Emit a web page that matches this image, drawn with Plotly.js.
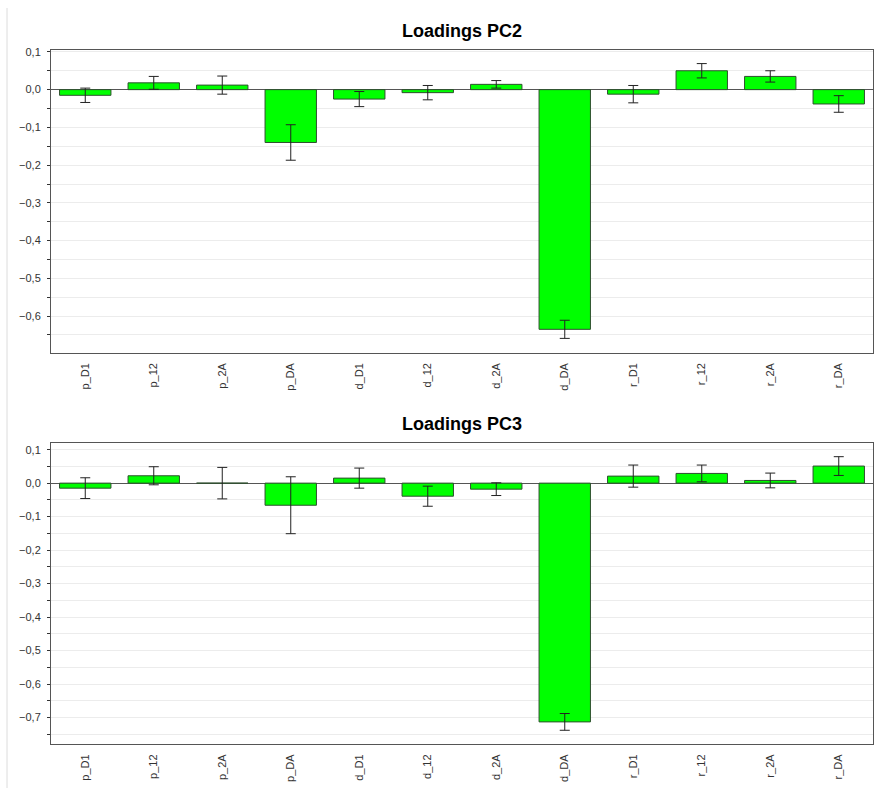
<!DOCTYPE html>
<html>
<head>
<meta charset="utf-8">
<script src="https://cdn.plot.ly/plotly-3.0.1.min.js"></script>
<style>html,body{margin:0;padding:0;background:#fff;}#chart{width:876px;height:788px;}</style>
</head>
<body>
<div id="chart"></div>
<script>
const categories = ["p_D1","p_12","p_2A","p_DA","d_D1","d_12","d_2A","d_DA","r_D1","r_12","r_2A","r_DA"];
const pc2Values = [-0.015, 0.018, 0.012, -0.140, -0.025, -0.008, 0.014, -0.635, -0.012, 0.050, 0.035, -0.038];
const pc2Errors = [0.019, 0.017, 0.024, 0.047, 0.020, 0.019, 0.010, 0.024, 0.023, 0.019, 0.015, 0.022];
const pc3Values = [-0.015, 0.022, 0.000, -0.066, 0.015, -0.039, -0.018, -0.713, 0.021, 0.029, 0.008, 0.051];
const pc3Errors = [0.031, 0.027, 0.047, 0.085, 0.030, 0.030, 0.019, 0.025, 0.033, 0.025, 0.022, 0.028];
const titles = ["Loadings PC2", "Loadings PC3"];

const font = "Liberation Sans, Arial, sans-serif";
const barStyle = {color: "#00ff00", line: {color: "#2f4f2f", width: 1}};
const errStyle = (arr) => ({type: "data", array: arr, visible: true, color: "#222", thickness: 1, width: 5});

const traces = [
  {type: "bar", x: categories, y: pc2Values, xaxis: "x", yaxis: "y", width: 0.75,
   marker: barStyle, error_y: errStyle(pc2Errors), hoverinfo: "x+y"},
  {type: "bar", x: categories, y: pc3Values, xaxis: "x2", yaxis: "y2", width: 0.75,
   marker: barStyle, error_y: errStyle(pc3Errors), hoverinfo: "x+y"}
];

const xBase = {
  type: "category", tickangle: -90, showline: true, mirror: true, linecolor: "#555", linewidth: 1,
  ticks: "", showgrid: false, ticklabelstandoff: 5,
  tickfont: {family: font, size: 11, color: "#333"}, fixedrange: true
};
const yBase = {
  showline: true, mirror: true, linecolor: "#555", linewidth: 1,
  dtick: 0.1, tick0: 0, tickformat: ".1f", ticks: "outside", ticklen: 3, tickcolor: "#333",
  ticklabelstandoff: 4,
  showgrid: true, gridcolor: "#ececec", gridwidth: 1,
  minor: {dtick: 0.05, ticks: "outside", ticklen: 3, tickcolor: "#333", showgrid: true, gridcolor: "#ececec"},
  zeroline: true, zerolinecolor: "#555", zerolinewidth: 1,
  tickfont: {family: font, size: 11, color: "#333"}, fixedrange: true
};

const layout = {
  width: 876, height: 788,
  margin: {l: 51, r: 3, t: 50, b: 44},
  separators: ",.",
  showlegend: false,
  paper_bgcolor: "#fff", plot_bgcolor: "#fff",
  bargap: 0.25,
  xaxis: Object.assign({}, xBase, {anchor: "y", domain: [0, 1]}),
  yaxis: Object.assign({}, yBase, {domain: [0.5638, 1], range: [-0.697, 0.105]}),
  xaxis2: Object.assign({}, xBase, {anchor: "y2", domain: [0, 1]}),
  yaxis2: Object.assign({}, yBase, {domain: [0, 0.4333], range: [-0.779, 0.119]}),
  annotations: [
    {text: "<b>" + titles[0] + "</b>", xref: "paper", yref: "paper", x: 0.5, y: 1.0 + 19/694,
     xanchor: "center", yanchor: "middle", showarrow: false, font: {family: font, size: 18, color: "#000"}},
    {text: "<b>" + titles[1] + "</b>", xref: "paper", yref: "paper", x: 0.5, y: 1 - (424 - 50)/694,
     xanchor: "center", yanchor: "middle", showarrow: false, font: {family: font, size: 18, color: "#000"}}
  ],
  shapes: [
    {type: "line", xref: "paper", yref: "paper", x0: -44/822, x1: -44/822, y0: 1 + 42/694, y1: -44/694,
     line: {color: "#dcdcdc", width: 1}}
  ]
};

Plotly.newPlot("chart", traces, layout, {displayModeBar: false, staticPlot: true});
</script>
</body>
</html>
